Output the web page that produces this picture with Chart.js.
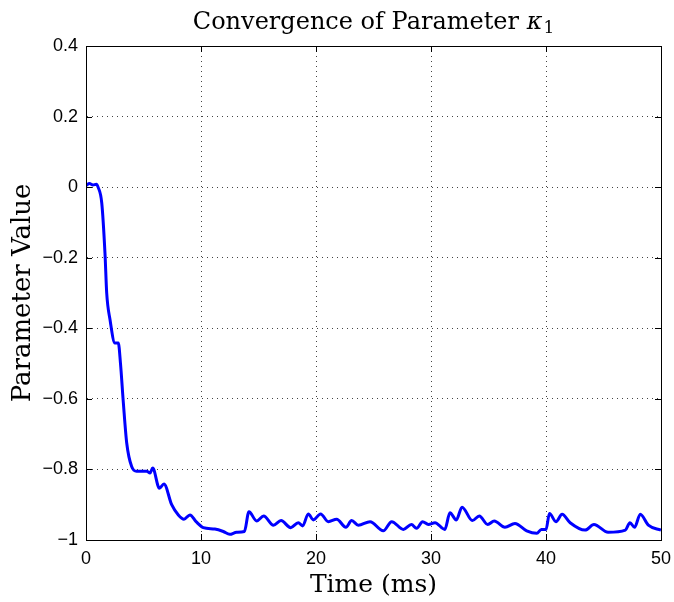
<!DOCTYPE html>
<html>
<head>
<meta charset="utf-8">
<script src="https://cdn.jsdelivr.net/npm/chart.js@4.4.1/dist/chart.umd.min.js"></script>
<style>
    html, body { margin: 0; padding: 0; background: #fff; }
    #wrap { width: 674px; height: 602px; }
</style>
</head>
<body>
<div id="wrap"><canvas id="paramChart" width="674" height="602"></canvas></div>
<script>
// Time samples (ms) and parameter values
const timeMs = [0, 0.3, 0.6, 0.9, 1.05, 1.37, 1.65, 1.8, 2.09, 2.52, 2.81, 3.0, 3.25, 3.54, 3.97, 4.4,
    5.28, 5.57, 5.8, 6.38, 6.78, 7.45, 8.03, 8.52, 9.04, 9.57, 10.2, 11.2, 11.94, 12.5, 13.1, 13.77,
    14.17, 14.84, 15.45, 16.3, 16.96, 17.8, 18.46, 18.84, 19.33, 19.77, 20.4, 21.07, 21.8, 22.6, 23.1,
    23.68, 24.7, 25.85, 26.58, 27.6, 28.3, 28.75, 29.27, 29.77, 30.35, 31.2, 31.65, 32.2, 32.7, 33.6,
    34.2, 34.93, 35.5, 36.43, 37.3, 38.32, 39.2, 39.6, 40.0, 40.3, 40.87, 41.4, 42.1, 43.4, 44.17,
    45.4, 46.9, 47.3, 47.7, 48.2, 48.9, 50];
const kappa1 = [0.005, 0.01, 0.006, 0.008, 0.0, -0.045, -0.187, -0.30, -0.376, -0.442, -0.442, -0.50,
    -0.612, -0.725, -0.792, -0.805, -0.805, -0.81, -0.796, -0.853, -0.841, -0.90, -0.929, -0.941,
    -0.929, -0.948, -0.965, -0.969, -0.976, -0.984, -0.978, -0.976, -0.92, -0.946, -0.932, -0.958,
    -0.945, -0.965, -0.951, -0.96, -0.926, -0.943, -0.926, -0.948, -0.941, -0.964, -0.945, -0.958,
    -0.948, -0.974, -0.948, -0.97, -0.956, -0.967, -0.948, -0.956, -0.951, -0.97, -0.923, -0.943,
    -0.907, -0.945, -0.932, -0.956, -0.946, -0.964, -0.953, -0.974, -0.981, -0.97, -0.97, -0.925,
    -0.948, -0.927, -0.951, -0.972, -0.956, -0.978, -0.972, -0.951, -0.964, -0.927, -0.958, -0.972];

const xTicks = [0, 10, 20, 30, 40, 50];
const yTicks = [0.4, 0.2, 0, -0.2, -0.4, -0.6, -0.8, -1];

const serif = '"DejaVu Serif", "Liberation Serif", serif';
const sans = '"Liberation Sans", Arial, sans-serif';

// MATLAB-style box with inward ticks, plus the title centred over the axes
const boxPlugin = {
    id: 'matlabBox',
    afterDatasetsDraw(chart) {
        const { ctx, chartArea: a, scales } = chart;
        ctx.save();
        ctx.strokeStyle = '#000';
        ctx.lineWidth = 1;
        ctx.beginPath();
        xTicks.forEach(v => {
            const px = Math.round(scales.x.getPixelForValue(v)) + 0.5;
            ctx.moveTo(px, a.bottom); ctx.lineTo(px, a.bottom - 6);
            ctx.moveTo(px, a.top); ctx.lineTo(px, a.top + 6);
        });
        yTicks.forEach(v => {
            const py = Math.round(scales.y.getPixelForValue(v)) + 0.5;
            ctx.moveTo(a.left, py); ctx.lineTo(a.left + 6, py);
            ctx.moveTo(a.right, py); ctx.lineTo(a.right - 6, py);
        });
        ctx.stroke();
        ctx.strokeRect(Math.round(a.left) + 0.5, Math.round(a.top) + 0.5,
            Math.round(a.right - a.left), Math.round(a.bottom - a.top));

        // title: "Convergence of Parameter " + italic kappa + subscript 1
        const main = 'Convergence of Parameter ';
        ctx.fillStyle = '#000';
        ctx.textBaseline = 'alphabetic';
        ctx.font = '24px ' + serif;
        const w1 = ctx.measureText(main).width;
        ctx.font = 'italic 24px ' + serif;
        const w2 = ctx.measureText('\u03BA').width;
        ctx.font = '17px ' + serif;
        const w3 = ctx.measureText('1').width;
        let x = (a.left + a.right) / 2 - (w1 + w2 + w3 + 1) / 2;
        const base = 29;
        ctx.font = '24px ' + serif;
        ctx.fillText(main, x, base);
        x += w1;
        ctx.font = 'italic 24px ' + serif;
        ctx.fillText('\u03BA', x, base);
        x += w2 + 1;
        ctx.font = '17px ' + serif;
        ctx.fillText('1', x, base + 4);
        ctx.restore();
    }
};

const ctx = document.getElementById('paramChart').getContext('2d');
new Chart(ctx, {
    type: 'line',
    data: {
        datasets: [{
            data: timeMs.map((t, i) => ({ x: t, y: kappa1[i] })),
            borderColor: '#0000ff',
            borderWidth: 3,
            pointRadius: 0,
            cubicInterpolationMode: 'monotone',
            fill: false
        }]
    },
    options: {
        responsive: false,
        animation: false,
        layout: { padding: { left: 0, right: 13, top: 46, bottom: 0 } },
        plugins: {
            legend: { display: false },
            tooltip: { enabled: false },
            title: { display: false }
        },
        scales: {
            x: {
                type: 'linear',
                min: 0,
                max: 50,
                afterBuildTicks: s => { s.ticks = xTicks.map(v => ({ value: v })); },
                afterFit: s => { s.height = 62; s.paddingRight = 10; },
                ticks: {
                    color: '#000',
                    padding: 8,
                    maxRotation: 0,
                    font: { family: sans, size: 18 }
                },
                grid: {
                    color: '#444',
                    lineWidth: 1,
                    drawTicks: false,
                    tickLength: 0
                },
                border: { display: true, color: '#000', dash: [1, 4] },
                title: {
                    display: true,
                    text: 'Time (ms)',
                    color: '#000',
                    font: { family: serif, size: 25 },
                    padding: { top: 0, bottom: 2 }
                }
            },
            y: {
                min: -1,
                max: 0.4,
                afterBuildTicks: s => { s.ticks = yTicks.map(v => ({ value: v })); },
                afterFit: s => { s.width = 86; },
                ticks: {
                    color: '#000',
                    padding: 8,
                    font: { family: sans, size: 18 },
                    callback: v => {
                        const r = Math.round(v * 10) / 10;
                        return (r < 0 ? '\u2212' : '') + String(Math.abs(r));
                    }
                },
                grid: {
                    color: '#444',
                    lineWidth: 1,
                    drawTicks: false,
                    tickLength: 0
                },
                border: { display: true, color: '#000', dash: [1, 4] },
                title: {
                    display: true,
                    text: 'Parameter Value',
                    color: '#000',
                    font: { family: serif, size: 26 },
                    padding: { top: 8, bottom: 4 }
                }
            }
        }
    },
    plugins: [boxPlugin]
});
</script>
</body>
</html>
